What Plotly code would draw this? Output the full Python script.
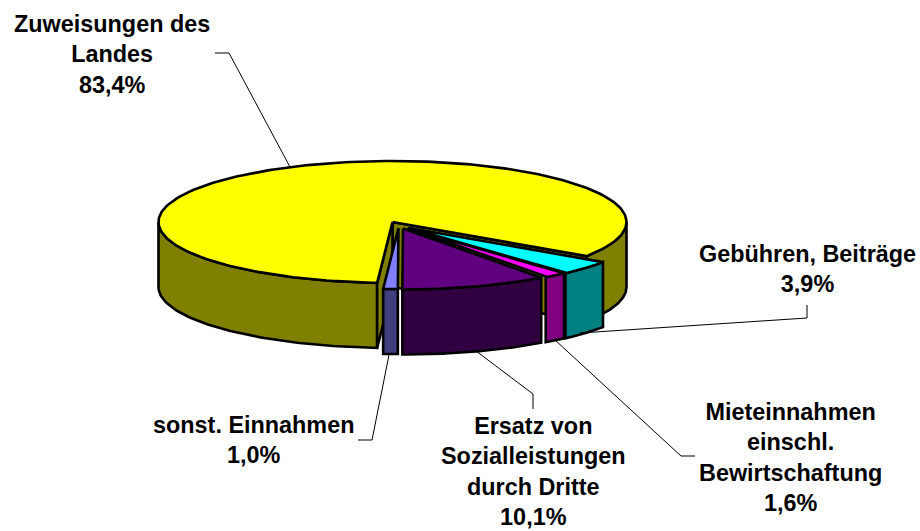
import numpy as np
import plotly.graph_objects as go

categories = ["Zuweisungen des<br>Landes", "sonst. Einnahmen", "Ersatz von<br>Sozialleistungen<br>durch Dritte",
              "Mieteinnahmen<br>einschl.<br>Bewirtschaftung", "Gebühren, Beiträge"]
values = [83.4, 1.0, 10.1, 1.6, 3.9]
value_labels = ["83,4%", "1,0%", "10,1%", "1,6%", "3,9%"]
top_colors = ["#FFFF00", "#8080FF", "#600080", "#FF00FF", "#00FFFF"]
side_colors = ["#808000", "#404080", "#300040", "#800080", "#008080"]

# how far each pulled-out slice is shifted (pixels)
shift_x = [0, 6, 10.5, 15, 16.5]
shift_y = [0, 6, 6.5, 6, 6]

CX, CY, RX, RY, DEPTH = 392.5, 222.0, 234.0, 61.0, 65.0
START = -34.0  # degrees, counter-clockwise


def pt(a, dx=0.0, dy=0.0):
    a = np.radians(a)
    return CX + dx + RX * np.cos(a), CY + dy - RY * np.sin(a)


def poly(fig, xs, ys, fill, width=2.6):
    fig.add_trace(go.Scatter(x=list(xs), y=list(ys), mode="lines", fill="toself", fillcolor=fill,
                             line=dict(color="black", width=width, shape="linear"), hoverinfo="skip",
                             showlegend=False))


def side(fig, a0, a1, dx, dy, color):
    t = np.linspace(a0, a1, 80)
    x, y = pt(t, dx, dy)
    poly(fig, np.r_[x, x[::-1], x[0]], np.r_[y, y[::-1] + DEPTH, y[0]], color)


def top(fig, a0, a1, dx, dy, color):
    t = np.linspace(a0, a1, 240)
    x, y = pt(t, dx, dy)
    ax, ay = CX + dx, CY + dy
    poly(fig, np.r_[ax, x, ax], np.r_[ay, y, ay], color)


def cut(fig, a, dx, dy, color):
    x, y = pt(a, dx, dy)
    ax, ay = CX + dx, CY + dy
    poly(fig, [ax, x, x, ax, ax], [ay, y, y + DEPTH, ay + DEPTH, ay], color)


fig = go.Figure()
spans = np.array(values) / sum(values) * 360
starts = START + np.r_[0, np.cumsum(spans)[:-1]]
ends = starts + spans

# main slice: visible rim to the right, rim to the left, cut faces, then top
a0, a1 = starts[0], ends[0]
side(fig, a0, 0, 0, 0, side_colors[0])
side(fig, 180, a1, 0, 0, side_colors[0])
cut(fig, a0, 0, 0, side_colors[0])
cut(fig, a1, 0, 0, side_colors[0])
top(fig, a0, a1, 0, 0, top_colors[0])

# pulled-out slices, back to front
for i in [4, 3, 2, 1]:
    side(fig, starts[i], ends[i], shift_x[i], shift_y[i], side_colors[i])
    top(fig, starts[i], ends[i], shift_x[i], shift_y[i], top_colors[i])

# leader lines
leaders = [
    ([215, 229, 290], [53, 53, 167]),
    ([807, 807, 580], [305, 318, 333]),
    ([695, 681, 555], [456, 456, 340]),
    ([533, 533, 476], [409, 394, 351]),
    ([358, 372, 389], [440, 440, 355]),
]
for lx, ly in leaders:
    fig.add_trace(go.Scatter(x=lx, y=ly, mode="lines", line=dict(color="black", width=1),
                             hoverinfo="skip", showlegend=False))

label_pos = [(112, 54), (253, 440), (533, 471), (790, 457), (807, 269)]
annotations = [
    dict(x=p[0], y=p[1], xref="x", yref="y", text=f"<b>{c}<br>{v}</b>", showarrow=False,
         xanchor="center", yanchor="middle", align="center",
         font=dict(family="Liberation Sans, Arial", size=23.4, color="black"))
    for c, v, p in zip(categories, value_labels, label_pos)
]

fig.update_layout(
    width=920, height=531, margin=dict(l=0, r=0, t=0, b=0),
    paper_bgcolor="white", plot_bgcolor="white", showlegend=False,
    xaxis=dict(range=[0, 920], visible=False, fixedrange=True),
    yaxis=dict(range=[531, 0], visible=False, fixedrange=True),
    annotations=annotations,
)
fig.write_html("out.html", config=dict(displayModeBar=False),
               post_script="document.body.style.margin='0';document.body.style.overflow='hidden';")
